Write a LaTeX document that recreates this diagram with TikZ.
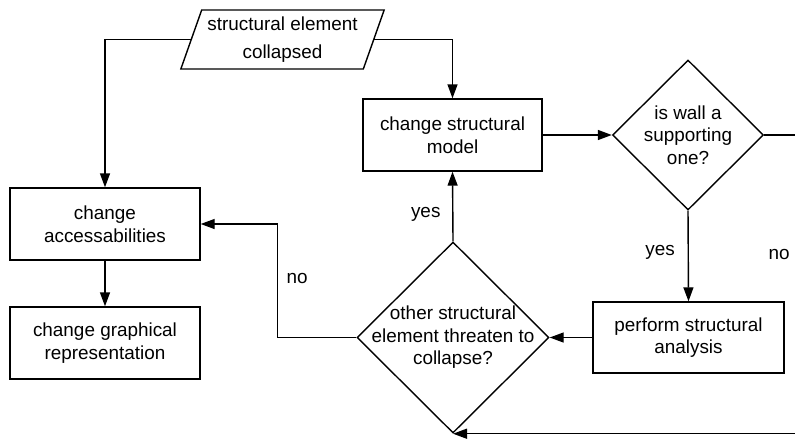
\documentclass[tikz,border=0pt]{standalone}
\usepackage{fontspec}
\setmainfont{Liberation Sans}
\usetikzlibrary{shapes.geometric,arrows.meta}
\begin{document}
\begin{tikzpicture}[x=0.5pt,y=-0.5pt,line width=0.7pt,font=\fontsize{9.45}{11.25}\selectfont]

    % Styles
    \tikzstyle{io} = [trapezium, trapezium left angle=67, trapezium right angle=113, trapezium stretches=true, minimum width=102.5pt, minimum height=29.5pt, inner sep=0pt, align=center, font=\fontsize{9.45}{14}\selectfont, draw=black]
    \tikzstyle{process} = [rectangle, minimum width=95pt, minimum height=36pt, inner sep=0pt, align=center, draw=black]
    \tikzstyle{decision} = [diamond, inner sep=0pt, draw=black]
    \tikzstyle{arrow} = [-{Triangle[length=7pt,width=5pt]}]

    \useasboundingbox (0,0) rectangle (795,439);

    % Nodes
    \node (input) [io] at (282.5,39.5) {structural element\\collapsed};
    \node (model) [process, minimum width=89.5pt] at (452.5,135) {change structural\\model};
    \node (wall) [decision, minimum width=75.5pt, minimum height=75pt, label={[align=center]center:is wall a\\supporting\\one?}] at (688,135) {};
    \node (perform) [process, minimum width=95.5pt, minimum height=35.5pt] at (688.5,337.5) {perform structural\\analysis};
    \node (threat) [decision, minimum width=96pt, minimum height=95.5pt, label={[align=center]center:other structural\\element threaten to\\collapse?}] at (453,337.5) {};
    \node (access) [process] at (105,224) {change\\accessabilities};
    \node (graph) [process] at (105,343) {change graphical\\representation};
    \coordinate (edge) at (800,135);

    % Arrows
    \draw [arrow] (input.west) -| (access.north);
    \draw [arrow] (input.east) -| (model.north);
    \draw [arrow] (model.east) -- (wall.west);
    \draw [arrow] (wall.south) -- node[left=3pt, pos=0.46] {yes} (perform.north);
    \draw [arrow] (wall.east) -- (edge) |- node[left=1.5pt, pos=0.2] {no} (threat.south);
    \draw [arrow] (perform.west) -- (threat.east);
    \draw [arrow] (threat.north) -- node[left=2.5pt, pos=0.38] {yes} (model.south);
    \draw [arrow] (threat.west) -- ++(-79,0) |- node[right=1pt, pos=0.26] {no} (access.east);
    \draw [arrow] (access.south) -- (graph.north);

\end{tikzpicture}
\end{document}
